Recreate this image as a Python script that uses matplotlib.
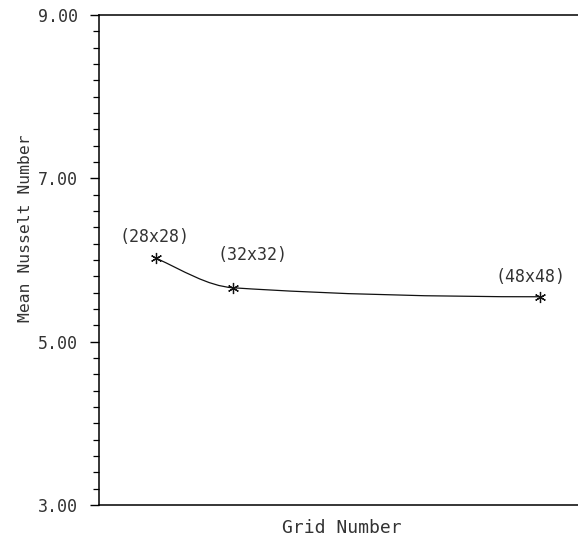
import numpy as np
import matplotlib
matplotlib.use('Agg')
import matplotlib.pyplot as plt
from matplotlib.path import Path
from matplotlib.patches import PathPatch
from matplotlib.ticker import MultipleLocator

plt.rcParams['font.family'] = ['DejaVu Sans Mono', 'DejaVu Sans']

# grid size (n x n) and mean Nusselt number
grid = [28, 32, 48]
nusselt = [6.02, 5.66, 5.55]
labels = ['(28x28)', '(32x32)', '(48x48)']
label_offsets = [(-2, 21), (19, 33), (-9, 20)]  # pixels from each point


def pchip_slopes(x, y):
    # shape preserving slopes, used only to draw a smooth curve through the points
    x = np.asarray(x, float)
    y = np.asarray(y, float)
    h = np.diff(x)
    d = np.diff(y) / h
    m = np.zeros_like(y)
    for i in range(1, len(x) - 1):
        if d[i - 1] * d[i] > 0:
            w1 = 2 * h[i] + h[i - 1]
            w2 = h[i] + 2 * h[i - 1]
            m[i] = (w1 + w2) / (w1 / d[i - 1] + w2 / d[i])
    m[0] = ((2 * h[0] + h[1]) * d[0] - h[0] * d[1]) / (h[0] + h[1])
    if np.sign(m[0]) != np.sign(d[0]):
        m[0] = 0
    m[-1] = ((2 * h[-1] + h[-2]) * d[-1] - h[-1] * d[-2]) / (h[-1] + h[-2])
    if np.sign(m[-1]) != np.sign(d[-1]):
        m[-1] = 0
    return m


fig = plt.figure(figsize=(5.78, 5.41), dpi=100)
ax = fig.add_axes([0.1713, 0.0665, 0.8287, 0.9058])

# smooth line as bezier segments
m = pchip_slopes(grid, nusselt)
verts = [(grid[0], nusselt[0])]
codes = [Path.MOVETO]
for i in range(len(grid) - 1):
    h = grid[i + 1] - grid[i]
    verts += [(grid[i] + h / 3, nusselt[i] + m[i] * h / 3),
              (grid[i + 1] - h / 3, nusselt[i + 1] - m[i + 1] * h / 3),
              (grid[i + 1], nusselt[i + 1])]
    codes += [Path.CURVE4] * 3
ax.add_patch(PathPatch(Path(verts, codes), facecolor='none', edgecolor='#111111', lw=0.9))

ax.plot(grid, nusselt, linestyle='none', marker=(6, 2, 0), markersize=8,
        markeredgewidth=0.9, color='#111111')

for g, n, lab, off in zip(grid, nusselt, labels, label_offsets):
    ax.annotate(lab, (g, n), xytext=off, textcoords='offset pixels',
                ha='center', va='center', fontsize=12, color='#333333')

ax.set_xlim(25, 50)
ax.set_ylim(3, 9)
ax.set_xticks([])
ax.yaxis.set_minor_locator(MultipleLocator(0.2))
ax.set_yticks([3, 5, 7, 9])
ax.set_yticklabels(['3.00', '5.00', '7.00', '9.00'])
ax.tick_params(axis='y', which='major', length=6.5, width=1.0, pad=8.5,
               labelsize=12, labelcolor='#333333')
ax.tick_params(axis='y', which='minor', length=4.3, width=0.9)
ax.spines['right'].set_visible(False)
for s in ['left', 'top', 'bottom']:
    ax.spines[s].set_linewidth(1.1)

ax.set_ylabel('Mean Nusselt Number', fontsize=11.8, color='#333333')
ax.yaxis.set_label_coords(-0.138, 0.565)
ax.set_xlabel('Grid Number', fontsize=13, color='#333333')
ax.xaxis.set_label_coords(0.507, -0.028)

fig.savefig('out.png', dpi=100)
